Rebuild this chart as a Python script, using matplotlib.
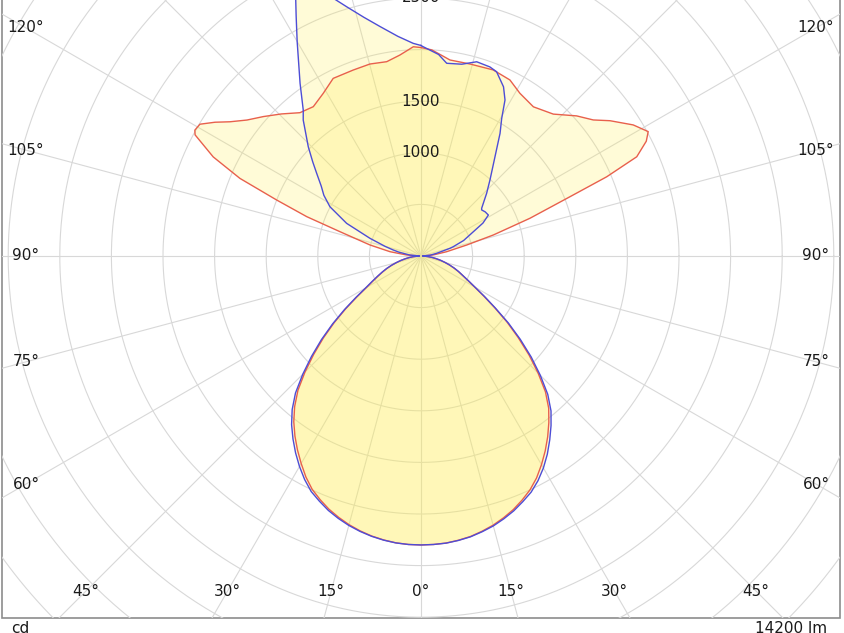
import numpy as np
import matplotlib
matplotlib.use("Agg")
import matplotlib.pyplot as plt
from matplotlib.patches import Rectangle, Polygon

# ---------------- data (cd vs gamma in degrees) ----------------
# lower hemisphere (gamma 0..90)
lower_gamma = [0, 2.5, 5, 7.5, 10, 12.5, 15, 17.5, 20, 22.5, 25, 27.5, 30, 32.5, 35, 37.5, 40,
               42.5, 45, 47.5, 50, 52.5, 55, 57.5, 60, 62.5, 65, 67.5, 70, 72.5, 75, 77.5, 80,
               82.5, 85, 87.5, 90]
red_left_lower = [2800, 2798, 2790, 2775, 2755, 2728, 2695, 2655, 2610, 2555, 2495, 2415, 2322, 2228, 2130, 2025, 1905,
                  1765, 1590, 1410, 1235, 1060, 890, 735, 610, 525, 458, 402, 350, 298, 246, 200, 155,
                  114, 75, 40, 15]
red_right_lower = [2800, 2798, 2792, 2778, 2760, 2732, 2700, 2660, 2615, 2560, 2500, 2425, 2335, 2240, 2140, 2035, 1925,
                   1785, 1605, 1420, 1230, 1050, 870, 720, 600, 512, 445, 392, 340, 290, 240, 195, 150,
                   110, 70, 38, 15]
blue_left_lower = [2800, 2798, 2791, 2777, 2758, 2733, 2703, 2666, 2624, 2572, 2518, 2442, 2355, 2262, 2163, 2060, 1942,
                   1800, 1620, 1438, 1258, 1078, 905, 748, 620, 534, 465, 407, 354, 300, 247, 201, 155,
                   114, 75, 40, 15]
blue_right_lower = [2800, 2798, 2793, 2780, 2763, 2737, 2708, 2670, 2628, 2577, 2525, 2455, 2372, 2278, 2175, 2070, 1960,
                    1818, 1635, 1448, 1255, 1068, 880, 728, 605, 516, 448, 394, 342, 291, 241, 196, 150,
                    110, 70, 38, 15]

# upper hemisphere (gamma > 90)
red_left_gamma = [94, 97.9, 102.2, 106.7, 109, 111.2, 113.2, 115.5, 118.2, 119.1, 120.8, 123,
                  125.1, 128, 131.5, 135.5, 139.8, 144.2, 149, 153.7, 160, 165.1, 170, 174, 177.9, 180]
red_left_cd = [139, 303, 506, 820, 1171, 1500, 1909, 2231, 2484, 2508, 2494, 2380,
               2262, 2140, 2039, 1930, 1818, 1784, 1839, 1920, 1918, 1925, 1912, 1958, 2029, 2020]

red_right_gamma = [95, 99.5, 103.5, 106.2, 109.1, 111.7, 113.1, 114.7, 117, 118.7, 121.7, 125.6,
                   128.3, 132, 137, 143, 148.7, 153.2, 158.8, 165.7, 171.6, 177, 180]
red_right_cd = [120, 252, 455, 730, 1117, 1554, 1956, 2301, 2450, 2510, 2417, 2252,
                2127, 2029, 1880, 1810, 1845, 1911, 1934, 1920, 1920, 2000, 2020]

blue_left_gamma = [95, 100, 102.2, 105, 109.1, 113.7, 118.4, 122, 125, 128.4, 131, 134.1, 139.1,
                   141.1, 145, 150, 152.5, 155, 157, 159, 161, 163.4, 166.5, 169.9, 174, 177.9, 180]
blue_left_cd = [110, 220, 275, 360, 523, 787, 1003, 1110, 1180, 1290, 1390, 1521, 1743,
                1817, 2043, 2400, 2620, 2880, 2980, 2800, 2650, 2520, 2380, 2258, 2140, 2062, 2040]

blue_right_gamma = [95, 99.8, 104.9, 106.1, 110, 114.9, 118, 121.3, 124.5, 127.2, 128.2, 133.7, 137.8,
                    143.3, 147.2, 149.6, 151.7, 154, 157.7, 160, 164, 168, 172.4, 175, 179.4, 180]
blue_right_cd = [90, 154, 291, 326, 440, 559, 680, 764, 755, 738, 748, 880, 995,
                 1200, 1414, 1545, 1717, 1824, 1930, 1950, 1958, 1900, 1884, 1960, 2028, 2040]

ring_values = list(range(500, 9001, 500))
ring_labels = [1000, 1500, 2500]
angle_ticks = list(range(0, 181, 15))
lumen_text = "14200 lm"
unit_text = "cd"

# ---------------- geometry (pixels) ----------------
W, H = 844, 633
CX, CY = 421, 256          # pole position in pixels
K = 0.1032                 # pixels per cd
BOX_L, BOX_R, BOX_B = 2, 840, 618
LAB_DX, LAB_DY = 395, 335  # label inset rectangle (from pole)


def px_x(p):
    return (p - CX) / K


def px_y(p):
    return (CY - p) / K


fig = plt.figure(figsize=(W / 100, H / 100), dpi=100)
ax = fig.add_axes([0, 0, 1, 1])
ax.set_xlim(px_x(0), px_x(W))
ax.set_ylim(px_y(H), px_y(0))
ax.axis("off")

box = Rectangle((px_x(BOX_L), px_y(BOX_B)), px_x(BOX_R) - px_x(BOX_L), px_y(-600) - px_y(BOX_B),
                facecolor="white", edgecolor="#8c8c8c", linewidth=1.2, zorder=0)
ax.add_patch(box)
clip = Rectangle((px_x(BOX_L), px_y(BOX_B)), px_x(BOX_R) - px_x(BOX_L), px_y(-600) - px_y(BOX_B),
                 transform=ax.transData, facecolor="none", edgecolor="none")

grid_col = "#d8d8d8"
th = np.linspace(0, 2 * np.pi, 721)
for rv in ring_values:
    ln, = ax.plot(rv * np.cos(th), rv * np.sin(th), color=grid_col, lw=0.8, zorder=1)
    ln.set_clip_path(clip)
for a in range(0, 360, 15):
    rad = np.radians(a)
    ln, = ax.plot([0, 9000 * np.sin(rad)], [0, -9000 * np.cos(rad)], color=grid_col, lw=0.8, zorder=1)
    ln.set_clip_path(clip)


def curve(lower_l, lg, lc, lower_r, rg, rc):
    lg = np.radians(np.array(list(lower_gamma) + list(lg), float))
    rg = np.radians(np.array(list(lower_gamma) + list(rg), float))
    lc = np.array(list(lower_l) + list(lc), float)
    rc = np.array(list(lower_r) + list(rc), float)
    xl = -lc * np.sin(lg)
    yl = -lc * np.cos(lg)
    xr = rc * np.sin(rg)
    yr = -rc * np.cos(rg)
    x = np.concatenate([xl[::-1], xr])
    y = np.concatenate([yl[::-1], yr])
    return x, y


fill_col = "#ffee55"
rx, ry = curve(red_left_lower, red_left_gamma, red_left_cd, red_right_lower, red_right_gamma, red_right_cd)
bx, by = curve(blue_left_lower, blue_left_gamma, blue_left_cd, blue_right_lower, blue_right_gamma, blue_right_cd)
ax.add_patch(Polygon(np.column_stack([rx, ry]), closed=True, facecolor=fill_col, alpha=0.23,
                     edgecolor="none", zorder=2))
ax.add_patch(Polygon(np.column_stack([bx, by]), closed=True, facecolor=fill_col, alpha=0.23,
                     edgecolor="none", zorder=2))
ax.plot(np.append(rx, rx[0]), np.append(ry, ry[0]), color="#e8604c", lw=1.0, zorder=3,
        solid_joinstyle="round")
ax.plot(np.append(bx, bx[0]), np.append(by, by[0]), color="#4d4dd6", lw=1.0, zorder=4,
        solid_joinstyle="round")

font = dict(family="DejaVu Sans", fontsize=11, color="#1a1a1a")
for rv in ring_labels:
    ax.text(0, rv, str(rv), ha="center", va="center", zorder=5, **font)

for a in angle_ticks:
    rad = np.radians(a)
    for side in (-1, 1):
        if side == -1 and a in (0, 180):
            continue
        s, c = np.sin(rad), np.cos(rad)
        ts = LAB_DX / s if s > 1e-9 else np.inf
        tb = LAB_DY / c if c > 1e-9 else np.inf
        t = min(ts, tb)
        lx = CX + side * t * s
        ly = CY + t * c
        if 0 <= ly <= H:
            ax.text(px_x(lx), px_y(ly), f"{a}°", ha="center", va="center", zorder=5, **font)

ax.text(px_x(11), px_y(633), unit_text, ha="left", va="baseline", **font)
ax.text(px_x(827), px_y(633), lumen_text, ha="right", va="baseline", **font)

fig.savefig("out.png", dpi=100)
